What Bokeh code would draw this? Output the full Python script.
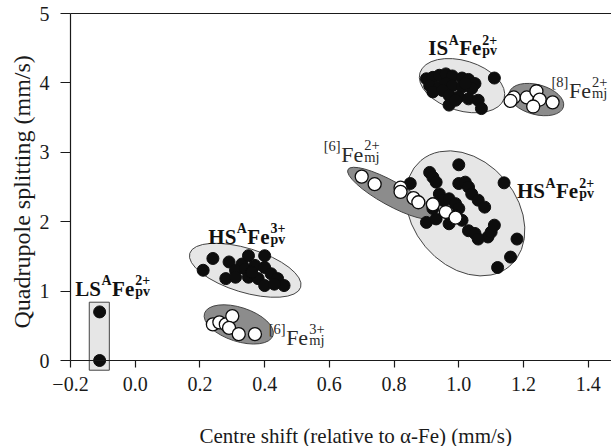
import math
from bokeh.plotting import figure
from bokeh.models import Range1d, FixedTicker, Label, LinearAxis
from bokeh.embed import file_html
from bokeh.resources import INLINE

# ---------------- data ----------------
x_ticks = [-0.2, 0.0, 0.2, 0.4, 0.6, 0.8, 1.0, 1.2, 1.4]
x_tick_labels = ["\u22120.2", "0.0", "0.2", "0.4", "0.6", "0.8", "1.0", "1.2", "1.4"]
y_ticks = [0, 1, 2, 3, 4, 5]

# LS A-site Fe2+ in perovskite (filled)
ls_pv_cs = [-0.11, -0.11]
ls_pv_qs = [0.70, 0.00]

# HS A-site Fe3+ in perovskite (filled)
hs3_pv_cs = [0.24, 0.21, 0.29, 0.33, 0.35, 0.40, 0.31, 0.34, 0.37, 0.40,
             0.42, 0.44, 0.46, 0.28, 0.31, 0.35, 0.38, 0.40, 0.43, 0.36]
hs3_pv_qs = [1.47, 1.30, 1.42, 1.39, 1.51, 1.51, 1.30, 1.32, 1.37, 1.34,
             1.25, 1.18, 1.08, 1.18, 1.20, 1.20, 1.18, 1.08, 1.10, 1.27]

# HS A-site Fe2+ in perovskite (filled)
hs2_pv_cs = [1.00, 0.91, 0.92, 0.93, 1.14, 1.00, 1.02, 1.03, 1.04, 1.06, 1.08,
             0.85, 0.94, 0.95, 0.92, 0.97, 0.99, 1.00, 0.90, 0.93, 0.97, 1.01,
             1.03, 1.05, 1.09, 1.06, 1.10, 1.11, 1.18, 1.16, 1.12, 0.99, 0.92]
hs2_pv_qs = [2.82, 2.71, 2.64, 2.57, 2.56, 2.55, 2.57, 2.50, 2.40, 2.31, 2.21,
             2.55, 2.40, 2.31, 2.26, 2.33, 2.26, 2.19, 1.99, 2.04, 1.97, 2.02,
             1.87, 1.83, 1.78, 1.75, 1.85, 1.95, 1.75, 1.49, 1.34, 2.09, 2.19]

# IS A-site Fe2+ in perovskite (filled)
is_pv_cs = [0.90, 0.92, 0.94, 0.96, 0.98, 1.01, 1.03, 1.05, 0.91, 0.94, 0.96, 0.98,
            1.01, 1.04, 0.92, 0.95, 0.97, 1.00, 1.03, 1.06, 0.97, 1.07, 1.11, 1.02, 0.99]
is_pv_qs = [4.06, 4.08, 4.11, 4.13, 4.10, 4.07, 4.05, 3.99, 3.96, 3.94, 3.99, 3.96,
            3.94, 3.92, 3.87, 3.89, 3.82, 3.80, 3.77, 3.75, 3.68, 3.63, 4.07, 3.99, 3.75]

# [8]Fe2+ in majorite (open)
mj8_2_cs = [1.17, 1.21, 1.24, 1.25, 1.29, 1.23, 1.16]
mj8_2_qs = [3.79, 3.79, 3.88, 3.76, 3.72, 3.66, 3.74]

# [6]Fe2+ in majorite (open)
mj6_2_cs = [0.70, 0.74, 0.82, 0.82, 0.86, 0.875, 0.92, 0.96, 0.99]
mj6_2_qs = [2.65, 2.54, 2.49, 2.43, 2.34, 2.28, 2.25, 2.14, 2.06]

# [6]Fe3+ in majorite (open)
mj6_3_cs = [0.24, 0.26, 0.28, 0.30, 0.29, 0.32, 0.37]
mj6_3_qs = [0.52, 0.55, 0.52, 0.64, 0.47, 0.38, 0.38]

# cluster outlines: centre (cs, qs), semi-axes (px), tilt (deg), shade
ell_cs = [1.01, 1.02, 0.34, 1.24, 0.79, 0.32]
ell_qs = [3.96, 2.12, 1.30, 3.76, 2.41, 0.52]
ell_a = [44, 69, 58, 28, 49, 36]
ell_b = [25, 52, 22, 15, 12, 17]
ell_ang = [-17, -50, -17, -15, -29, -18]
ell_dark = [False, False, False, True, True, True]

# LS box
ls_box = dict(left=-0.142, right=-0.080, bottom=-0.14, top=0.84)

# ---------------- figure ----------------
FONT = "Liberation Serif"
INK = "#1a1a1a"
LIGHT = "#e6e6e6"
DARK = "#8c8c8c"
EDGE = "#444444"
X0, X1, Y0, Y1 = -0.2, 1.472, 0.0, 5.0   # drawn axis extents
PX_X, PX_Y = 323.5, 69.4                  # pixels per data unit

# the frame covers the whole canvas; the axes are drawn at fixed positions inside it
p = figure(width=611, height=446,
           x_range=Range1d(X0 - 70 / PX_X, X1),
           y_range=Range1d(Y1 + 13 / PX_Y - 446 / PX_Y, Y1 + 13 / PX_Y),
           x_axis_location=None, y_axis_location=None,
           output_backend="svg", toolbar_location=None,
           min_border=0)
p.grid.visible = False
p.outline_line_color = None
p.background_fill_color = "white"
p.border_fill_color = "white"


def style_axis(ax, size):
    ax.minor_tick_line_color = None
    ax.major_tick_in = 0
    ax.axis_line_color = INK
    ax.major_tick_line_color = INK
    ax.axis_line_width = 1.2
    ax.major_tick_line_width = 1.2
    ax.major_label_text_font = FONT
    ax.major_label_text_font_size = size
    ax.major_label_text_color = INK


xa = LinearAxis(fixed_location=Y0, ticker=FixedTicker(ticks=x_ticks), bounds=(X0, X1))
xa.major_label_overrides = {t: s for t, s in zip(x_ticks, x_tick_labels)}
style_axis(xa, "20px")
xa.major_tick_out = 7
xa.major_label_standoff = 9
p.add_layout(xa, "below")

ya = LinearAxis(fixed_location=X0, ticker=FixedTicker(ticks=y_ticks), bounds=(Y0, Y1))
style_axis(ya, "20px")
ya.major_tick_out = 10
ya.major_label_standoff = 11
p.add_layout(ya, "left")

# top border line (no ticks, no labels)
xt = LinearAxis(fixed_location=Y1, ticker=FixedTicker(ticks=[]), bounds=(X0, X1))
style_axis(xt, "0px")
xt.major_tick_out = 0
p.add_layout(xt, "above")

# text baseline correction (px) for this renderer
BFIX = 6

# axis titles
p.add_layout(Label(x=X0, y=Y0, x_offset=129, y_offset=-81 + BFIX,
                   text="Centre shift (relative to \u03b1-Fe) (mm/s)",
                   text_font=FONT, text_font_size="21px", text_align="left",
                   text_baseline="alphabetic", text_color=INK))
p.add_layout(Label(x=X0, y=Y0, x_offset=-49, y_offset=32,
                   text="Quadrupole splitting (mm/s)", angle=math.pi / 2,
                   text_font=FONT, text_font_size="24px", text_align="left",
                   text_baseline="middle", text_color=INK))

# cluster outlines
for dark_pass in (False, True):
    idx = [i for i, d in enumerate(ell_dark) if d == dark_pass]
    p.ellipse(x=[ell_cs[i] for i in idx], y=[ell_qs[i] for i in idx],
              width=[2 * ell_a[i] for i in idx], height=[2 * ell_b[i] for i in idx],
              angle=[ell_ang[i] for i in idx], angle_units="deg",
              width_units="screen", height_units="screen",
              fill_color=DARK if dark_pass else LIGHT, line_color=EDGE, line_width=1)
    if not dark_pass:
        p.quad(fill_color=LIGHT, line_color=EDGE, line_width=1, **{k: [v] for k, v in ls_box.items()})

# filled symbols (perovskite)
for cs, qs in [(ls_pv_cs, ls_pv_qs), (hs3_pv_cs, hs3_pv_qs),
               (hs2_pv_cs, hs2_pv_qs), (is_pv_cs, is_pv_qs)]:
    p.scatter(cs, qs, size=12, marker="circle", fill_color="#0d0d0d", line_color="#0d0d0d")

# open symbols (majorite)
for cs, qs in [(mj8_2_cs, mj8_2_qs), (mj6_2_cs, mj6_2_qs), (mj6_3_cs, mj6_3_qs)]:
    p.scatter(cs, qs, size=13, marker="circle", fill_color="white", line_color="#0d0d0d", line_width=1.3)

# ---------------- compound labels ----------------
W_REG = {'[': .333, ']': .333, '6': .5, '8': .5, 'F': .556, 'e': .444,
         '2': .5, '3': .5, '+': .564, 'm': .778, 'j': .278}
W_BOLD = {'H': .778, 'S': .556, 'I': .389, 'L': .667, 'A': .722, 'F': .611,
          'e': .444, '2': .5, '3': .5, '+': .570, 'p': .556, 'v': .5}


def tw(s, bold, size):
    table = W_BOLD if bold else W_REG
    return sum(table.get(c, 0.5) for c in s) * size


def add_text(x, y, txt, dx, dy, size, bold):
    p.add_layout(Label(x=x, y=y, x_offset=dx, y_offset=dy + BFIX, text=txt,
                       text_font=FONT, text_font_size=f"{size:.1f}px",
                       text_font_style="bold" if bold else "normal",
                       text_align="left", text_baseline="alphabetic",
                       text_color="#111111" if bold else "#2a2a2a"))


def compound(x, y, parts, bold, size):
    small = size * 0.66
    cur = 0.0
    for kind, txt in parts:
        if kind == "n":
            add_text(x, y, txt, cur, 0, size, bold)
            cur += tw(txt, bold, size)
        elif kind == "sup":
            add_text(x, y, txt, cur + 0.5, size * 0.40, small, bold)
            cur += tw(txt, bold, small) + 1
        else:
            sup, sub = txt
            add_text(x, y, sup, cur + 1, size * 0.42, small, bold)
            add_text(x, y, sub, cur + 1, -size * 0.12, small, bold)
            cur += max(tw(sup, bold, small), tw(sub, bold, small)) + 1


pv_labels = [("IS", "2+", 0.906, 4.41), ("HS", "2+", 1.180, 2.35),
             ("HS", "3+", 0.226, 1.70), ("LS", "2+", -0.185, 0.94)]
mj_labels = [("8", "2+", 1.285, 3.80), ("6", "2+", 0.581, 2.88), ("6", "3+", 0.411, 0.24)]

for spin, charge, lx, ly in pv_labels:
    compound(lx, ly, [("n", spin), ("sup", "A"), ("n", "Fe"), ("ss", (charge, "pv"))], True, 21)
for coord, charge, lx, ly in mj_labels:
    compound(lx, ly, [("sup", f"[{coord}]"), ("n", "Fe"), ("ss", (charge, "mj"))], False, 22)

open("out.html", "w").write(file_html(p, INLINE))
